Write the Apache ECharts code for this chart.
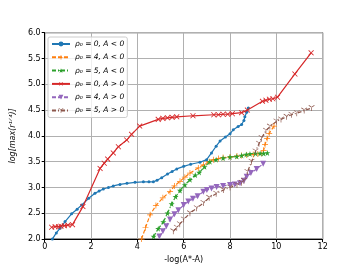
<!DOCTYPE html>
<html><head><meta charset="utf-8">
<script src="https://cdn.jsdelivr.net/npm/echarts@6/dist/echarts.min.js"></script>
<style>html,body{margin:0;padding:0;background:#fff}#c{width:359px;height:269px}</style>
</head><body><div id="c"></div>
<script>
const xTicks = [0, 2, 4, 6, 8, 10, 12];
const yTicks = [2.0, 2.5, 3.0, 3.5, 4.0, 4.5, 5.0, 5.5, 6.0];
const seriesNames = ['ρ₀ = 0, A < 0','ρ₀ = 4, A < 0','ρ₀ = 5, A < 0','ρ₀ = 0, A > 0','ρ₀ = 4, A > 0','ρ₀ = 5, A > 0'];
const blue = [[0.33,2.0],[0.5,2.12],[0.66,2.21],[0.88,2.34],[1.16,2.49],[1.4,2.58],[1.6,2.66],[1.9,2.79],[2.17,2.89],[2.35,2.93],[2.53,2.97],[2.75,3.0],[2.96,3.03],[3.25,3.06],[3.55,3.08],[3.9,3.1],[4.26,3.11],[4.5,3.11],[4.69,3.11],[4.85,3.14],[5.05,3.19],[5.3,3.26],[5.5,3.31],[5.7,3.36],[6.0,3.41],[6.3,3.45],[6.7,3.49],[6.99,3.54],[7.2,3.67],[7.4,3.8],[7.57,3.9],[7.8,3.98],[8.0,4.04],[8.14,4.12],[8.35,4.18],[8.5,4.22],[8.6,4.3],[8.64,4.37],[8.72,4.46],[8.79,4.54]];
const orange = [[4.18,2.0],[4.35,2.22],[4.55,2.47],[4.8,2.65],[5.1,2.8],[5.41,2.92],[5.6,3.03],[5.84,3.12],[6.05,3.2],[6.27,3.28],[6.63,3.38],[6.85,3.44],[7.1,3.5],[7.28,3.54],[7.5,3.56],[7.7,3.58],[8.0,3.59],[8.3,3.61],[8.5,3.62],[8.72,3.63],[9.0,3.64],[9.2,3.65],[9.37,3.66],[9.45,3.72],[9.51,3.83],[9.6,3.95],[9.69,4.05],[9.9,4.19]];
const green = [[4.7,2.05],[4.9,2.2],[5.12,2.33],[5.3,2.5],[5.48,2.68],[5.65,2.82],[5.84,2.94],[6.05,3.05],[6.27,3.15],[6.5,3.24],[6.67,3.29],[6.9,3.4],[7.13,3.5],[7.4,3.54],[7.7,3.57],[8.0,3.59],[8.29,3.6],[8.5,3.62],[8.7,3.64],[8.86,3.65],[9.1,3.66],[9.3,3.66],[9.45,3.66],[9.61,3.67]];
const red = [[0.3,2.23],[0.45,2.24],[0.6,2.24],[0.7,2.25],[0.85,2.26],[1.0,2.27],[1.2,2.28],[1.65,2.63],[2.39,3.37],[2.57,3.47],[2.72,3.55],[2.96,3.67],[3.18,3.79],[3.54,3.92],[3.75,4.03],[4.1,4.19],[4.9,4.32],[5.1,4.34],[5.3,4.35],[5.5,4.36],[5.7,4.37],[6.4,4.39],[7.3,4.41],[7.5,4.41],[7.7,4.42],[7.9,4.42],[8.1,4.43],[8.5,4.45],[8.75,4.5],[9.4,4.67],[9.55,4.69],[9.7,4.71],[9.85,4.72],[10.05,4.75],[10.8,5.2],[11.5,5.61]];
const purple = [[4.95,2.05],[5.1,2.15],[5.25,2.25],[5.41,2.38],[5.6,2.48],[5.77,2.56],[6.0,2.66],[6.2,2.73],[6.4,2.78],[6.6,2.83],[6.85,2.92],[7.0,2.95],[7.2,2.98],[7.42,3.01],[7.7,3.03],[8.0,3.05],[8.2,3.06],[8.43,3.08],[8.6,3.13],[8.72,3.21],[8.9,3.28],[9.15,3.36],[9.43,3.46]];
const brown = [[5.55,2.15],[5.7,2.22],[5.83,2.29],[6.0,2.38],[6.27,2.5],[6.56,2.6],[6.85,2.7],[7.1,2.8],[7.4,2.88],[7.71,2.95],[8.0,3.0],[8.3,3.05],[8.5,3.09],[8.6,3.13],[8.75,3.3],[8.93,3.5],[9.1,3.7],[9.25,3.85],[9.36,3.96],[9.55,4.1],[9.72,4.18],[10.0,4.28],[10.2,4.32],[10.44,4.37],[10.65,4.41],[10.88,4.44],[11.2,4.49],[11.52,4.54]];

const PLUS = 'path://M4.4,0H5.6V4.4H10V5.6H5.6V10H4.4V5.6H0V4.4H4.4Z';
const STAR = 'path://M5,0L6.2,3.6L10,3.6L6.9,5.8L8.1,9.5L5,7.2L1.9,9.5L3.1,5.8L0,3.6L3.8,3.6Z';
const TRI1 = 'path://M4.5,5L4.5,10L5.5,10L5.5,5ZM5.3,5.4L0.6,2.7L1.1,1.9L5.6,4.6ZM4.7,5.4L9.4,2.7L8.9,1.9L4.4,4.6Z';

function mk(name, data, color, type, symbol, size, rot) {
  return {
    name, type: 'line', data, symbol, symbolSize: size, symbolRotate: rot || 0,
    showSymbol: true, clip: true,
    lineStyle: { color, width: 1.2, type },
    itemStyle: { color },
    emphasis: { disabled: true }
  };
}
const chart = echarts.init(document.getElementById('c'), null, { renderer: 'canvas' });
chart.setOption({
  animation: false,
  grid: { left: 44.7, right: 36.3, top: 32.7, bottom: 29.7, show: true, borderColor: '#000', borderWidth: 1 },
  legend: {
    left: 48, top: 37, orient: 'vertical', itemGap: 5.3, itemWidth: 18, itemHeight: 6,
    backgroundColor: 'rgba(255,255,255,0.8)', borderColor: '#ccc', borderWidth: 1, borderRadius: 2,
    padding: [3, 3, 3, 3],
    textStyle: { fontSize: 7.5, fontStyle: 'italic', fontFamily: 'DejaVu Sans', color: '#000' },
    data: seriesNames
  },
  xAxis: {
    type: 'value', min: xTicks[0], max: xTicks[xTicks.length - 1], interval: 2,
    name: '-log(A*-A)', nameLocation: 'middle', nameGap: 16,
    nameTextStyle: { fontSize: 8, fontFamily: 'DejaVu Sans', color: '#000' },
    axisLine: { lineStyle: { color: '#000' } },
    axisTick: { length: 3, lineStyle: { color: '#000' } },
    axisLabel: { fontSize: 8, fontFamily: 'DejaVu Sans', color: '#000', margin: 4 },
    splitLine: { lineStyle: { color: '#b0b0b0', width: 1 } }
  },
  yAxis: {
    type: 'value', min: yTicks[0], max: yTicks[yTicks.length - 1], interval: 0.5,
    name: 'log[max(r¹ᐟ⁴)]', nameLocation: 'middle', nameGap: 28, nameRotate: 90,
    nameTextStyle: { fontSize: 8, fontStyle: 'italic', fontFamily: 'DejaVu Sans', color: '#000' },
    axisLine: { lineStyle: { color: '#000' } },
    axisTick: { length: 3, lineStyle: { color: '#000' } },
    axisLabel: { fontSize: 8, fontFamily: 'DejaVu Sans', color: '#000', margin: 4, formatter: v => v.toFixed(1) },
    splitLine: { lineStyle: { color: '#b0b0b0', width: 1 } }
  },
  series: [
    mk(seriesNames[0], blue, '#1f77b4', 'solid', 'circle', 3),
    mk(seriesNames[1], orange, '#ff7f0e', [4, 2], PLUS, 6),
    mk(seriesNames[2], green, '#2ca02c', [4, 2, 1, 2], STAR, 6),
    mk(seriesNames[3], red, '#d62728', 'solid', PLUS, 7, 45),
    mk(seriesNames[4], purple, '#9467bd', [4, 2], 'triangle', 6, 180),
    mk(seriesNames[5], brown, '#8c564b', [4, 2, 1, 2], TRI1, 6)
  ]
});
</script></body></html>
